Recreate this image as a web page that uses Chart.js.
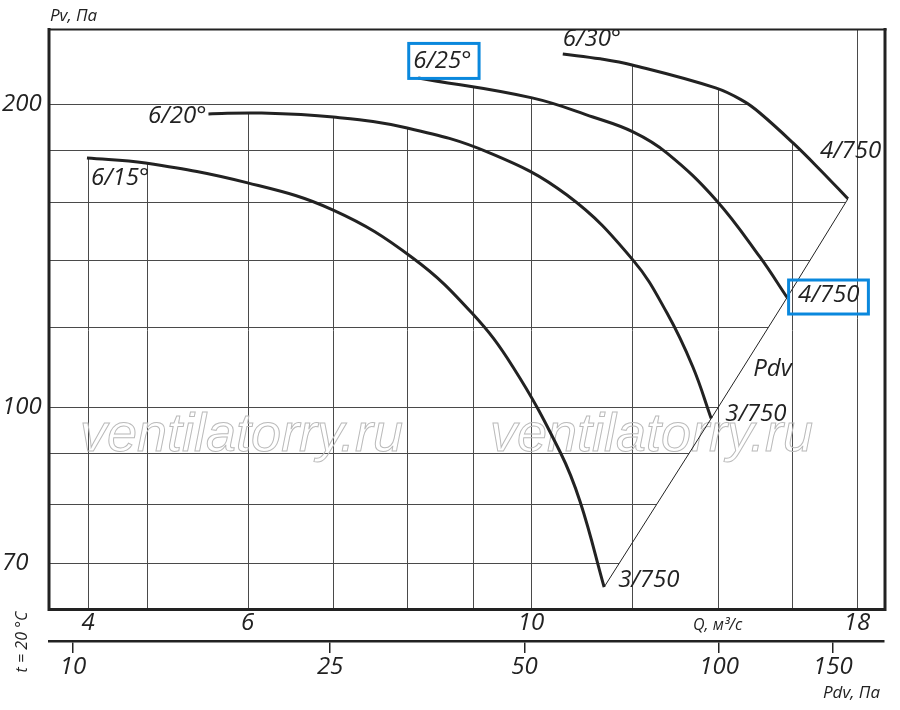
<!DOCTYPE html>
<html lang="ru">
<head>
<meta charset="utf-8">
<title>Pv – Q</title>
<script src="https://cdn.jsdelivr.net/npm/chart.js@4.4.1/dist/chart.umd.min.js"></script>
<style>
	html, body { margin: 0; padding: 0; background: #fff; }
	canvas { display: block; }
</style>
</head>
<body>
<canvas id="fanChart" width="900" height="710"></canvas>
<script>
// Q, м³/с and Pv, Па, one pair per blade angle
const q15 = [4.49, 4.99, 6.00, 7.00, 8.08, 8.99, 9.68, 10.54, 10.93, 11.41];
const pv15 = [176.9, 174.9, 167.1, 157.0, 140.7, 124.0, 109.6, 90.2, 80.4, 66.2];

const q20 = [5.59, 6.13, 7.00, 8.00, 9.29, 10.67, 12.02, 12.78, 13.39, 13.84];
const pv20 = [195.7, 196.1, 194.3, 189.5, 178.9, 162.5, 140.0, 124.0, 109.6, 97.4];

const q25 = [8.16, 10.02, 11.18, 12.02, 12.78, 13.96, 15.11, 15.87];
const pv25 = [212.5, 203.0, 194.3, 187.8, 178.9, 160.7, 141.0, 128.5];

const q30 = [10.59, 11.33, 12.00, 13.95, 14.66, 15.11, 16.04, 16.84, 17.71];
const pv30 = [224.5, 222.0, 218.9, 207.7, 201.6, 196.1, 183.1, 172.2, 161.1];

// the Pdv line joins the ends of the four curves
const pdvQ = [q15, q20, q25, q30].map((a) => a[a.length - 1]);
const pdvPv = [pv15, pv20, pv25, pv30].map((a) => a[a.length - 1]);

const qGrid = [4.5, 5, 6, 7, 8, 9, 10, 12, 14, 16, 18];
const pvGrid = [70, 80, 90, 100, 120, 140, 160, 180, 200];

const qTicks = [4.5, 6, 10, 14, 18];
const qTickLabels = ["4", "6", "10", "Q, м³/с", "18"];
const pvTicks = [70, 100, 200];
const pdvTicks = [10, 25, 50, 100, 150];

const FONT = "'Open Sans', 'Noto Sans', sans-serif";
const ink = "#222";
const gridColor = "#4a4a4a";
const highlight = "#0a88dd";

const toPoints = (qs, pvs) => qs.map((q, i) => ({ x: q, y: pvs[i] }));

const curve = (qs, pvs) => ({
	data: toPoints(qs, pvs),
	borderColor: ink,
	borderWidth: 3,
	pointRadius: 0,
	tension: 0.4,
	fill: false
});

/* labels are tied to a point of a dataset, offsets in px */
const curveLabels = [
	{ text: "6/15°", ds: 0, at: "first", dx: 4, dy: 20 },
	{ text: "6/20°", ds: 1, at: "first", dx: -2, dy: 2, align: "right" },
	{ text: "6/25°", ds: 2, at: "first", dx: -5, dy: -17, box: [4.5, 7.5, 17.5, 17.5] },
	{ text: "6/30°", ds: 3, at: "first", dx: 0, dy: -15 },
	{ text: "4/750", ds: 3, at: "last", dx: -28, dy: -48 },
	{ text: "4/750", ds: 2, at: "last", dx: 11, dy: -2, box: [9.5, 9, 15.5, 18.5] },
	{ text: "3/750", ds: 1, at: "last", dx: 14, dy: -4 },
	{ text: "3/750", ds: 0, at: "last", dx: 14, dy: -7 },
	{ text: "Pdv", ds: 4, at: 1, dx: 42, dy: -49 }
];

const crisp = (v) => Math.round(v) + 0.5;

const clippedGrid = {
	id: "clippedGrid",
	beforeDatasetsDraw(chart) {
		const { ctx, chartArea: a, scales } = chart;
		const lines = [0, 1, 2, 3].map((i) => chart.getDatasetMeta(i).dataset);
		lines.forEach((l) => l.updateControlPoints(a, "x"));
		const pdvPts = chart.getDatasetMeta(4).data;
		const rightmost = Math.max(...lines.map((l) => l.points[l.points.length - 1].x));

		ctx.save();
		ctx.strokeStyle = gridColor;
		ctx.lineWidth = 1;

		// vertical lines stop at the highest curve above them
		ctx.save();
		ctx.beginPath();
		lines.forEach((l) => {
			const f = l.points[0];
			const e = l.points[l.points.length - 1];
			l.path(ctx);
			ctx.lineTo(e.x + 1, e.y);
			ctx.lineTo(e.x + 1, a.bottom);
			ctx.lineTo(f.x - 1, a.bottom);
			ctx.lineTo(f.x - 1, f.y);
			ctx.closePath();
		});
		ctx.clip();
		ctx.beginPath();
		qGrid.forEach((q) => {
			const px = crisp(scales.x.getPixelForValue(q));
			if (px > rightmost) return;
			ctx.moveTo(px, a.top);
			ctx.lineTo(px, a.bottom);
		});
		ctx.stroke();
		ctx.restore();

		ctx.beginPath();
		qGrid.forEach((q) => {
			const px = crisp(scales.x.getPixelForValue(q));
			if (px <= rightmost) return;
			ctx.moveTo(px, a.top);
			ctx.lineTo(px, a.bottom);
		});
		ctx.stroke();

		// horizontal lines stop at the 6/30 curve and the Pdv line
		ctx.save();
		ctx.beginPath();
		const top = lines[3];
		top.path(ctx);
		for (let i = pdvPts.length - 2; i >= 0; i--) {
			ctx.lineTo(pdvPts[i].x, pdvPts[i].y);
		}
		ctx.lineTo(pdvPts[0].x, a.bottom + 2);
		ctx.lineTo(a.left - 2, a.bottom + 2);
		ctx.lineTo(a.left - 2, a.top - 2);
		ctx.lineTo(top.points[0].x, a.top - 2);
		ctx.closePath();
		ctx.clip();
		ctx.beginPath();
		pvGrid.forEach((v) => {
			const py = crisp(scales.y.getPixelForValue(v));
			ctx.moveTo(a.left, py);
			ctx.lineTo(a.right, py);
		});
		ctx.stroke();
		ctx.restore();

		// watermark
		ctx.font = "italic 54px 'Liberation Sans', Arial, sans-serif";
		ctx.strokeStyle = "#bababa";
		ctx.lineWidth = 1;
		ctx.textBaseline = "alphabetic";
		ctx.strokeText("ventilatorry.ru", a.left + 31, a.top + 422);
		ctx.strokeText("ventilatorry.ru", a.left + 441, a.top + 422);
		ctx.restore();
	}
};

const decorations = {
	id: "decorations",
	afterDatasetsDraw(chart) {
		const { ctx, chartArea: a, scales } = chart;
		ctx.save();

		// frame
		ctx.strokeStyle = ink;
		ctx.lineWidth = 3;
		ctx.beginPath();
		ctx.moveTo(a.left, a.top - 1);
		ctx.lineTo(a.left, a.bottom + 1.5);
		ctx.lineTo(a.right + 1, a.bottom + 1.5);
		ctx.lineTo(a.right + 1, a.top - 1);
		ctx.stroke();
		ctx.lineWidth = 2;
		ctx.beginPath();
		ctx.moveTo(a.left - 1, a.top + 0.5);
		ctx.lineTo(a.right + 2.5, a.top + 0.5);
		ctx.stroke();

		// curve labels
		ctx.fillStyle = ink;
		ctx.textBaseline = "middle";
		ctx.font = "italic 24px " + FONT;
		curveLabels.forEach((lab) => {
			const pts = chart.getDatasetMeta(lab.ds).data;
			const p = lab.at === "first" ? pts[0] : lab.at === "last" ? pts[pts.length - 1] : pts[lab.at];
			const w = ctx.measureText(lab.text).width;
			const cy = p.y + lab.dy;
			const left = lab.align === "right" ? p.x + lab.dx - w : p.x + lab.dx;
			ctx.textAlign = "left";
			ctx.fillText(lab.text, left, cy);
			if (lab.box) {
				const [l, r, t, b] = lab.box;
				ctx.save();
				ctx.strokeStyle = highlight;
				ctx.lineWidth = 3;
				ctx.strokeRect(left - l, cy - t, w + l + r, t + b);
				ctx.restore();
			}
		});

		// axis captions
		ctx.font = "italic 17px " + FONT;
		ctx.textAlign = "left";
		ctx.fillText("Pv, Па", a.left + 1, a.top - 13);
		ctx.textAlign = "right";
		ctx.fillText("Pdv, Па", a.right - 4, scales.pdv.top + 52);

		ctx.font = "italic 16px " + FONT;
		ctx.translate(22, scales.pdv.top + 1);
		ctx.rotate(-Math.PI / 2);
		ctx.textAlign = "center";
		ctx.fillText("t = 20 °C", 0, 0);

		ctx.restore();
	}
};

Chart.defaults.font.family = FONT;
Chart.defaults.color = ink;

const setTicks = (values) => (scale) => {
	scale.ticks = values.map((v) => ({ value: v }));
};

new Chart(document.getElementById("fanChart"), {
	type: "line",
	data: {
		datasets: [
			curve(q15, pv15),
			curve(q20, pv20),
			curve(q25, pv25),
			curve(q30, pv30),
			{
				data: toPoints(pdvQ, pdvPv),
				borderColor: ink,
				borderWidth: 1,
				pointRadius: 0,
				tension: 0,
				fill: false
			}
		]
	},
	options: {
		responsive: false,
		animation: false,
		events: [],
		layout: {
			padding: { top: 29, right: 16, left: 2, bottom: 0 }
		},
		plugins: {
			legend: { display: false },
			tooltip: { enabled: false }
		},
		scales: {
			x: {
				type: "logarithmic",
				position: "bottom",
				min: 4.193,
				max: 18.90,
				weight: 0,
				grid: { display: false, drawTicks: false },
				border: { display: false },
				afterBuildTicks: setTicks(qTicks),
				afterFit: (scale) => { scale.height = 33; },
				ticks: {
					autoSkip: false,
					maxRotation: 0,
					padding: 1,
					color: ink,
					font: (c) => c.index === 3
						? { size: 16, style: "italic", lineHeight: 2 }
						: { size: 24, style: "italic" },
					callback: (v, i) => qTickLabels[i]
				}
			},
			pdv: {
				type: "logarithmic",
				axis: "x",
				position: "bottom",
				min: 9.18,
				max: 180.0,
				weight: 1,
				grid: {
					display: true,
					drawOnChartArea: false,
					drawTicks: true,
					tickLength: 12,
					color: ink,
					lineWidth: 1.5
				},
				border: { display: true, color: ink, width: 2.5 },
				afterBuildTicks: setTicks(pdvTicks),
				afterFit: (scale) => { scale.height = 69; },
				ticks: {
					autoSkip: false,
					maxRotation: 0,
					padding: 0,
					color: ink,
					font: { size: 24, style: "italic" },
					callback: (v) => String(v)
				}
			},
			y: {
				type: "logarithmic",
				position: "left",
				min: 63.1,
				max: 237.7,
				grid: { display: false, drawTicks: false },
				border: { display: false },
				afterBuildTicks: setTicks(pvTicks),
				afterFit: (scale) => { scale.width = 47; },
				ticks: {
					autoSkip: false,
					crossAlign: "far",
					padding: 4,
					color: ink,
					font: { size: 24, style: "italic" },
					callback: (v) => String(v)
				}
			}
		}
	},
	plugins: [clippedGrid, decorations]
});
</script>
</body>
</html>
